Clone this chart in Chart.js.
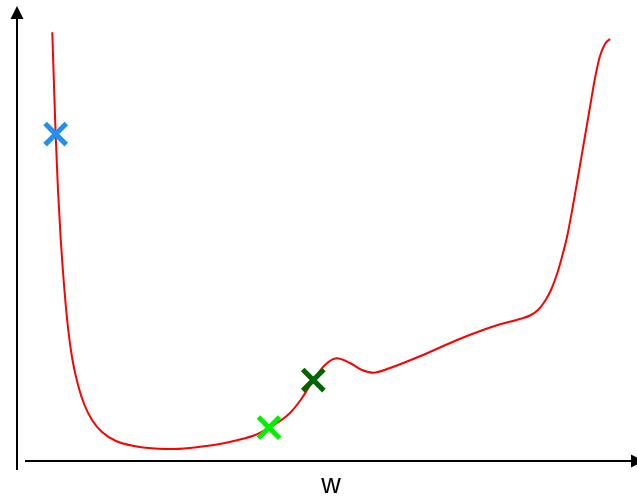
<!DOCTYPE html>
<html>
<head>
<meta charset="utf-8">
<script src="https://cdn.jsdelivr.net/npm/chart.js@4/dist/chart.umd.min.js"></script>
<style>
  html, body { margin: 0; padding: 0; background: #ffffff; }
  #wrap { width: 637px; height: 502px; position: relative; }
</style>
</head>
<body>
<div id="wrap"><canvas id="c"></canvas></div>
<script>
// Curve samples: w (horizontal) and loss (vertical)
const curveW = [0.569, 0.594, 0.623, 0.661, 0.706, 0.765, 0.827, 0.895, 0.984, 1.089, 1.210, 1.371, 1.597, 1.887, 2.226, 2.548, 2.952, 3.274, 3.597, 3.839, 4.065, 4.242, 4.403, 4.597, 4.779, 4.968, 5.156, 5.371, 5.565, 5.747, 6.016, 6.548, 7.097, 7.516, 7.790, 8.113, 8.274, 8.403, 8.516, 8.613, 8.710, 8.790, 8.871, 8.952, 9.048, 9.145, 9.242, 9.323, 9.403, 9.484, 9.565];
const curveLoss = [9.401, 8.355, 7.171, 5.943, 4.846, 3.750, 2.873, 2.215, 1.667, 1.228, 0.899, 0.636, 0.439, 0.329, 0.274, 0.263, 0.310, 0.375, 0.471, 0.570, 0.730, 0.877, 1.053, 1.382, 1.776, 2.105, 2.252, 2.149, 1.996, 1.936, 2.039, 2.325, 2.654, 2.873, 2.998, 3.114, 3.191, 3.311, 3.509, 3.750, 4.101, 4.474, 4.912, 5.482, 6.228, 6.996, 7.763, 8.399, 8.882, 9.145, 9.254];

// Markers
const markerNames = ['start', 'good', 'saddle'];
const markerW = [0.624, 4.065, 4.779];
const markerLoss = [7.171, 0.730, 1.776];
const markerColors = ['#2190f0', '#00f000', '#006400'];

const axisLabel = 'w';

const curveData = curveW.map((w, i) => ({ x: w, y: curveLoss[i] }));

const markerSets = markerNames.map((name, i) => ({
  label: name,
  type: 'scatter',
  data: [{ x: markerW[i], y: markerLoss[i] }],
  pointStyle: 'crossRot',
  pointRadius: 15,
  pointHoverRadius: 15,
  borderColor: markerColors[i],
  backgroundColor: markerColors[i],
  pointBorderWidth: 5,
  pointHoverBorderWidth: 5,
  borderWidth: 5,
  order: 0
}));

const axesPlugin = {
  id: 'arrowAxes',
  beforeDatasetsDraw(chart) {
    const ctx = chart.ctx;
    const xs = chart.scales.x, ys = chart.scales.y;
    const x0 = xs.getPixelForValue(0);
    const y0 = ys.getPixelForValue(0);
    ctx.save();
    ctx.strokeStyle = '#000';
    ctx.fillStyle = '#000';
    ctx.lineWidth = 2;
    // vertical axis
    ctx.beginPath();
    ctx.moveTo(x0, y0 + 9);
    ctx.lineTo(x0, 18);
    ctx.stroke();
    ctx.beginPath();
    ctx.moveTo(x0, 6);
    ctx.lineTo(x0 - 6.5, 19);
    ctx.lineTo(x0 + 6.5, 19);
    ctx.closePath();
    ctx.fill();
    // horizontal axis
    ctx.beginPath();
    ctx.moveTo(x0 + 8, y0);
    ctx.lineTo(632, y0);
    ctx.stroke();
    ctx.beginPath();
    ctx.moveTo(644, y0);
    ctx.lineTo(631, y0 - 6.5);
    ctx.lineTo(631, y0 + 6.5);
    ctx.closePath();
    ctx.fill();
    // axis label
    ctx.font = '27px "Liberation Sans", Arial, sans-serif';
    ctx.textAlign = 'center';
    ctx.textBaseline = 'middle';
    ctx.fillText(axisLabel, 331, 486);
    ctx.restore();
  }
};

new Chart(document.getElementById('c'), {
  type: 'line',
  data: {
    datasets: [
      ...markerSets,
      {
        label: 'loss',
        data: curveData,
        borderColor: '#ff0000',
        borderWidth: 2,
        pointRadius: 0,
        fill: false,
        cubicInterpolationMode: 'monotone',
        order: 1
      }
    ]
  },
  options: {
    responsive: true,
    maintainAspectRatio: false,
    animation: false,
    layout: { autoPadding: false, padding: { left: 17, right: 0, top: 5, bottom: 41 } },
    plugins: { legend: { display: false }, tooltip: { enabled: false } },
    scales: {
      x: { type: 'linear', min: 0, max: 10, display: false },
      y: { type: 'linear', min: 0, max: 10, display: false }
    }
  },
  plugins: [axesPlugin]
});
</script>
</body>
</html>
